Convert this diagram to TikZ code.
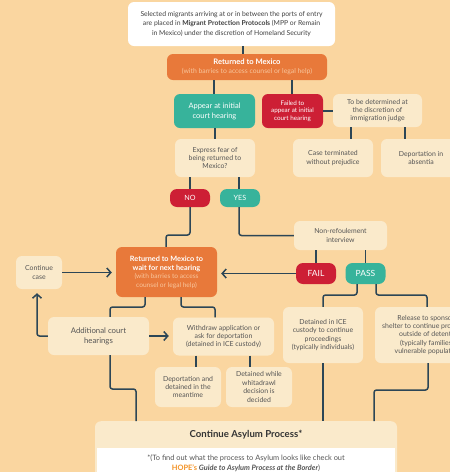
\documentclass[tikz,border=0pt]{standalone}
\usepackage{fontspec}
\setmainfont{Lato}
\usetikzlibrary{arrows.meta}
\definecolor{bgc}{HTML}{FAD6A0}
\definecolor{creamc}{HTML}{FAEACB}
\definecolor{orngc}{HTML}{E8793A}
\definecolor{tealc}{HTML}{37B39B}
\definecolor{redc}{HTML}{CD1F35}
\definecolor{linec}{HTML}{2C4656}
\definecolor{txtc}{HTML}{555555}
\definecolor{subc}{HTML}{F8C59C}
\definecolor{hopec}{HTML}{F39224}
\tikzset{
  base/.style={rounded corners=6pt, inner sep=1pt, align=center, draw=none},
  creambox/.style={base, fill=creamc, text=txtc, font=\fontsize{6.9}{8.4}\selectfont},
  orangebox/.style={base, fill=orngc, text=white},
  tealbox/.style={base, fill=tealc, text=white, font=\fontsize{7.5}{10}\selectfont},
  redbox/.style={base, fill=redc, text=white, font=\fontsize{6.3}{7.6}\selectfont},
  pill/.style={base, rounded corners=7pt, text=white, font=\fontsize{7.2}{8}\selectfont, minimum width=40pt},
  conn/.style={draw=linec, line width=1.5pt, rounded corners=2.5pt},
  arr/.style={conn, -{Straight Barb[length=4pt,width=9pt]}, shorten >=4pt}
}
\begin{document}
\begin{tikzpicture}[x=1pt,y=-1pt]
\useasboundingbox (0,0) rectangle (450,472);
\clip (0,0) rectangle (450,472);
\fill[bgc] (0,0) rectangle (450,472);

% top
\node[base, fill=white, text=black!75, minimum width=207pt, minimum height=44pt, font=\fontsize{6.8}{9.4}\selectfont] (top) at (231.5,24)
  {Selected migrants arriving at or in between the ports of entry\\
   are placed in \textbf{Migrant Protection Protocols} (MPP or Remain\\
   in Mexico) under the discretion of Homeland Security};
\node[orangebox, minimum width=160pt, minimum height=26pt, font=\fontsize{6.8}{8.8}\selectfont] (rtm) at (247,67)
  {{\fontsize{7.6}{8.5}\selectfont\textbf{Returned to Mexico}}\\
   {\color{subc}(with barries to access counsel or legal help)}};

\node[tealbox, minimum width=81pt, minimum height=34pt] (appear) at (214.5,111) {Appear at initial\\court hearing};
\node[redbox, minimum width=61pt, minimum height=34pt] (failed) at (292.5,111) {Failed to\\appear at initial\\court hearing};
\node[creambox, minimum width=89pt, minimum height=33pt] (tbd) at (377.5,110.5) {To be determined at\\the discretion of\\immigration judge};

\node[creambox, minimum width=80pt, minimum height=38pt] (fear) at (215,158) {Express fear of\\being returned to\\Mexico?};
\node[creambox, minimum width=80pt, minimum height=38pt] (caseterm) at (333,158) {Case terminated\\without prejudice};
\node[creambox, minimum width=80pt, minimum height=38pt] (absentia) at (421,158) {Deportation in\\absentia};

\node[pill, fill=redc, minimum height=18pt] (no) at (190,198) {NO};
\node[pill, fill=tealc, minimum height=18pt] (yes) at (240,198) {YES};

\node[creambox, minimum width=93pt, minimum height=29pt] (nonref) at (340.5,235.5) {Non-refoulement\\interview};

\node[orangebox, minimum width=101pt, minimum height=50pt, font=\fontsize{6.6}{8.2}\selectfont] (wait) at (166.5,272)
  {{\fontsize{7.3}{8}\selectfont\textbf{Returned to Mexico to}}\\[1.5pt]
   {\fontsize{7.3}{8}\selectfont\textbf{wait for next hearing}}\\
   {\color{subc}(with barries to access}\\
   {\color{subc}counsel or legal help)}};
\node[creambox, minimum width=46pt, minimum height=33pt] (cont) at (39,272.5) {Continue\\case};
\node[pill, fill=redc, minimum height=21pt, font=\fontsize{8.5}{9}\selectfont] (fail) at (316,273.5) {FAIL};
\node[pill, fill=tealc, minimum height=21pt, font=\fontsize{8.5}{9}\selectfont] (pass) at (365.5,273.5) {PASS};

\node[creambox, minimum width=101pt, minimum height=38pt, font=\fontsize{7.8}{10}\selectfont] (addl) at (98.5,336) {Additional court\\hearings};
\node[creambox, minimum width=101pt, minimum height=38pt] (withdraw) at (223.5,336.5) {Withdraw application or\\ask for deportation\\(detained in ICE custody)};
\node[creambox, minimum width=80pt, minimum height=56pt] (iced) at (323,335) {Detained in ICE\\custody to continue\\proceedings\\(typically individuals)};
\node[creambox, minimum width=110pt, minimum height=56pt] (release) at (430,335) {Release to sponsor or\\shelter to continue proceedings\\outside of detention\\(typically families or\\vulnerable populations)};

\node[creambox, minimum width=66pt, minimum height=40pt] (deptm) at (188,387) {Deportation and\\detained in the\\meantime};
\node[creambox, minimum width=66pt, minimum height=40pt] (whiledet) at (259,387) {Detained while\\whitadrawl\\decision is\\decided};

% asylum
\node[base, fill=creamc, minimum width=302pt, minimum height=70pt, anchor=north] (asylum) at (246,421) {};
\node[font=\fontsize{9.6}{10}\selectfont\bfseries, text=black!80, inner sep=0pt] (asytitle) at (246,434.5) {Continue Asylum Process*};
\node[fill=white, minimum width=298pt, minimum height=30pt, anchor=north, inner sep=1pt, align=center, text=txtc, font=\fontsize{7.4}{10}\selectfont] (asynote) at (246,448)
  {*(To find out what the process to Asylum looks like check out\\
   {\color{hopec}\textbf{HOPE's}} \textbf{\textit{Guide to Asylum Process at the Border}})};

% connectors
\draw[conn] (top.south -| 243,0) -- (rtm.north -| 243,0);
\draw[conn] (rtm.south -| 214,0) -- (appear.north -| 214,0);
\draw[conn] (rtm.south -| 292,0) -- (failed.north -| 292,0);
\draw[conn] (failed.east |- 0,111) -- (tbd.west |- 0,111);
\draw[conn] (tbd.south -| 351,0) -- (caseterm.north -| 351,0);
\draw[conn] (tbd.south -| 405,0) -- (absentia.north -| 405,0);
\draw[conn] (appear.south -| 215,0) -- (fear.north -| 215,0);
\draw[conn] (fear.south -| 190,0) -- (no.north);
\draw[conn] (fear.south -| 239,0) -- (yes.north -| 239,0);
\draw[conn] (no.south) -- (190,235) -| (wait.north -| 166,0);
\draw[conn] (yes.south -| 239,0) |- (nonref.west);
\draw[conn] (nonref.south -| fail.north) -- (fail.north);
\draw[conn] (nonref.south -| pass.north) -- (pass.north);
\draw[arr] (fail.west) -- (wait.east |- fail.west);
\draw[arr] (cont.east) -- (wait.west |- cont.east);
\draw[conn] (wait.south -| 145,0) -- (145,307) -| (addl.north -| 110,0);
\draw[conn] (wait.south -| 181,0) -- (181,307) -| (withdraw.north -| 215,0);
\draw[arr] (addl.west) -| (cont.south -| 37,0);
\draw[arr] (addl.east) -- (withdraw.west |- addl.east);
\draw[conn] (addl.south -| 110,0) -- (110,389) -| (asylum.north -| 136,0);
\draw[conn] (withdraw.south -| 196,0) -- (deptm.north -| 196,0);
\draw[conn] (withdraw.south -| 250,0) -- (whiledet.north -| 250,0);
\draw[conn] (pass.south -| 357,0) -- (357,295) -| (iced.north);
\draw[conn] (pass.south -| 376,0) -- (376,295) -| (release.north -| 427,0);
\draw[conn] (iced.south) -- (asylum.north -| iced.south);
\draw[conn] (release.south -| 428,0) -- (428,390) -| (asylum.north -| 374,0);
\end{tikzpicture}
\end{document}
